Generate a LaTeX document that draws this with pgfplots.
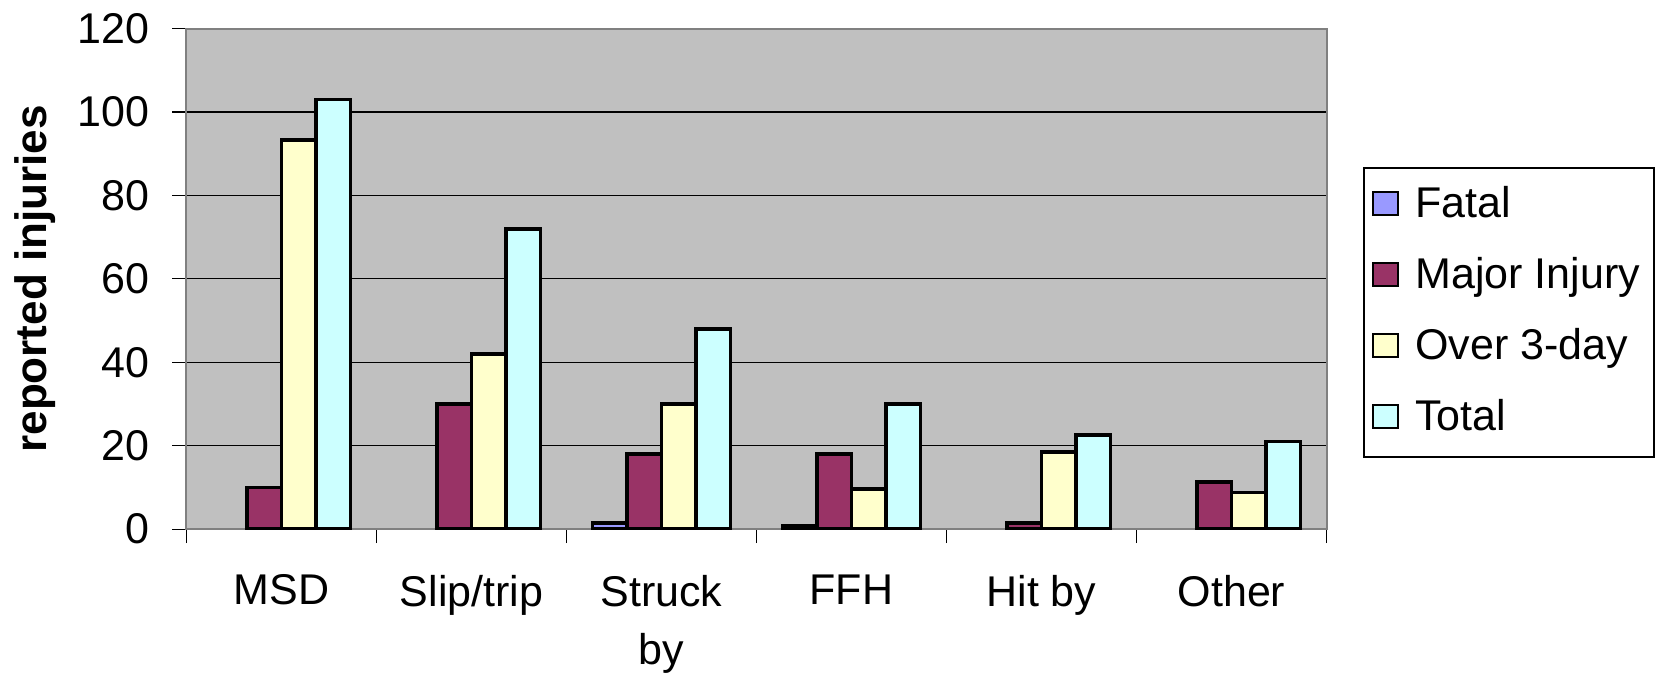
\documentclass[border=0pt]{standalone}
\usepackage{fontspec}
\setmainfont{Liberation Sans}
\usepackage{pgfplots}
\pgfplotsset{compat=1.18}
\definecolor{bgray}{HTML}{C0C0C0}
\definecolor{cfatal}{HTML}{9999FF}
\definecolor{cmajor}{HTML}{993366}
\definecolor{cover}{HTML}{FFFFCC}
\definecolor{ctotal}{HTML}{CCFFFF}
\definecolor{framegray}{HTML}{808080}
\pgfplotsset{sqlegend/.style={legend image code/.code={\draw[##1,line width=1.2pt] (0pt,-4.5pt) rectangle (12.5pt,7pt);}}}
\begin{document}
\begin{tikzpicture}
\useasboundingbox (-93.25pt,-71.9pt) rectangle (737.75pt,264.6pt);
\begin{axis}[
  at={(0,0)}, anchor=south west,
  scale only axis, width=570pt, height=250.3pt,
  ybar=0pt, bar width=0.182,
  xmin=-0.5, xmax=5.5, ymin=0, ymax=120,
  xtick={0,1,2,3,4,5},
  xticklabels={MSD,Slip/trip,Struck\\by,FFH,Hit by,Other},
  minor xtick={-0.5,0.5,1.5,2.5,3.5,4.5,5.5},
  ytick={0,20,40,60,80,100,120},
  tick pos=left,
  tick align=outside, major tick length=7pt, minor tick length=7pt,
  major x tick style={draw=none},
  minor x tick style={black, line width=0.6pt},
  ytick style={black, line width=0.6pt},
  ymajorgrids, grid style={black, line width=0.6pt},
  axis line style={framegray, line width=1pt},
  axis background/.style={fill=bgray},
  tick label style={font=\fontsize{21.5}{24.5}\selectfont},
  /pgf/number format/assume math mode=true,
  xticklabel style={align=center, yshift=-12.3pt, font=\fontsize{21.5}{29}\selectfont},
  yticklabel style={xshift=-8pt},
  ylabel={\bfseries reported injuries},
  ylabel style={font=\fontsize{22}{25}\selectfont, at={(axis description cs:-0.1329,0.5)}, anchor=center, rotate=0},
  legend style={at={(1.0324,0.7226)}, anchor=north west, draw=black, line width=0.6pt, fill=white,
    font=\fontsize{21.5}{24.5}\selectfont, inner xsep=4pt, inner ysep=6pt, row sep=9.5pt,
    nodes={inner sep=3pt, text height=15.5pt, text depth=4.5pt},
    /tikz/every odd column/.append style={column sep=5pt}},
  legend cell align=left,
]
\addplot[fill=cfatal, draw=black, line width=1.8pt, sqlegend] coordinates {(2,1.5) (3,0.8)};
\addplot[fill=cmajor, draw=black, line width=1.8pt, sqlegend] coordinates {(0,10) (1,30) (2,18) (3,18) (4,1.5) (5,11.3)};
\addplot[fill=cover, draw=black, line width=1.8pt, sqlegend] coordinates {(0,93.3) (1,42) (2,30) (3,9.6) (4,18.5) (5,8.8)};
\addplot[fill=ctotal, draw=black, line width=1.8pt, sqlegend] coordinates {(0,103) (1,72) (2,48) (3,30) (4,22.6) (5,21)};
\legend{Fatal,Major Injury,Over 3-day,Total}
\end{axis}
\end{tikzpicture}
\end{document}
